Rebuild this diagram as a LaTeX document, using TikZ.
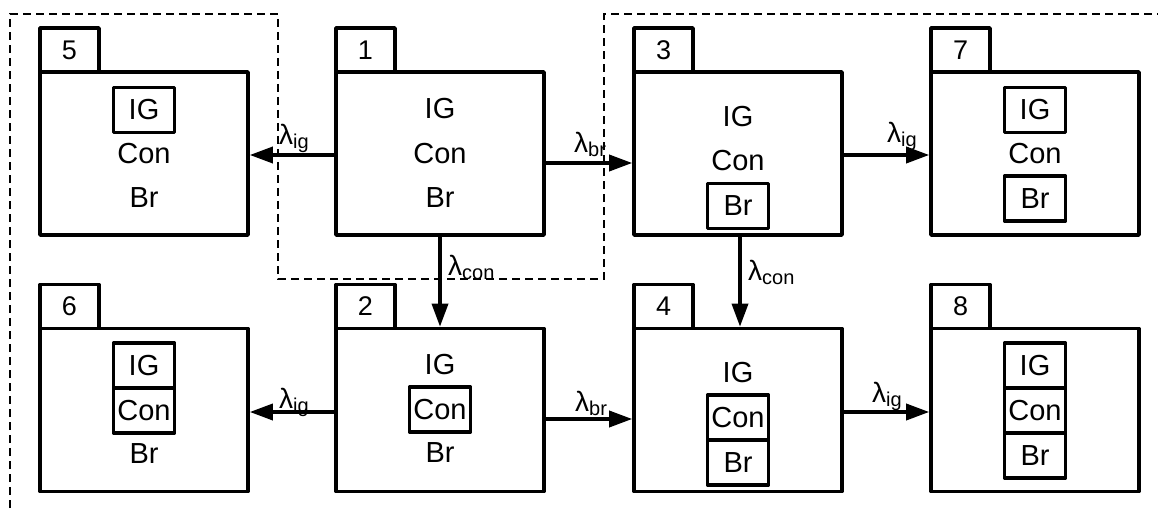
\documentclass[tikz,border=0pt]{standalone}
\usepackage{fontspec}
\setmainfont{Liberation Sans}
\usetikzlibrary{arrows.meta}
\newcommand{\lsub}[1]{λ\raisebox{-4pt}{\fontsize{20}{20}\selectfont #1}}
\begin{document}
\begin{tikzpicture}[x=1pt,y=-1pt,
  body/.style={draw, line width=3.7pt, line join=round, minimum width=208pt, minimum height=163pt, inner sep=0pt, outer sep=0pt},
  tab/.style={draw, line width=3.7pt, line join=round, minimum width=59pt, minimum height=44pt, inner sep=0pt, outer sep=0pt, font=\fontsize{27}{27}\selectfont, anchor=south west},
  txt/.style={inner sep=0pt, font=\fontsize{29}{29}\selectfont},
  ibox/.style={draw, line width=3.7pt, line join=round, minimum width=61pt, minimum height=45pt, inner sep=0pt, outer sep=0pt, font=\fontsize{29}{29}\selectfont},
  arr/.style={line width=3.5pt, -{Triangle[length=23pt,width=16pt]}, shorten >=1.8pt},
  lab/.style={inner sep=0pt, anchor=base west, font=\fontsize{28}{28}\selectfont},
  frameline/.style={line width=1.3pt, dash pattern=on 8pt off 5pt}
]
\useasboundingbox (0,0) rectangle (1158,513);
% dashed frame
\draw[frameline] (10,508) -- (10,14) -- (278,14) -- (278,279) -- (604,279) -- (604,14) -- (1158,14);

% box 5
\node[body] (b5) at (144,153.5) {};
\node[tab] (t5) at (b5.north west) {5};
\node[ibox] (b5ig) at (144,110) {IG};
\node[txt] (b5con) at (144,154) {Con};
\node[txt] (b5br) at (144,198) {Br};

% box 1
\node[body] (b1) at (440,153.5) {};
\node[tab] (t1) at (b1.north west) {1};
\node[txt] (b1ig) at (440,109) {IG};
\node[txt] (b1con) at (440,154) {Con};
\node[txt] (b1br) at (440,198) {Br};

% box 3
\node[body] (b3) at (738,153.5) {};
\node[tab] (t3) at (b3.north west) {3};
\node[txt] (b3ig) at (738,117) {IG};
\node[txt] (b3con) at (738,161) {Con};
\node[ibox] (b3br) at (738,206) {Br};

% box 7
\node[body] (b7) at (1035,153.5) {};
\node[tab] (t7) at (b7.north west) {7};
\node[ibox] (b7ig) at (1035,110) {IG};
\node[txt] (b7con) at (1035,154) {Con};
\node[ibox] (b7br) at (1035,198.5) {Br};

% box 6
\node[body] (b6) at (144,410) {};
\node[tab] (t6) at (b6.north west) {6};
\node[ibox] (b6ig) at (144,365.5) {IG};
\node[ibox, anchor=north] (b6con) at (b6ig.south) {Con};
\node[txt] (b6br) at (144,454) {Br};

% box 2
\node[body] (b2) at (440,410) {};
\node[tab] (t2) at (b2.north west) {2};
\node[txt] (b2ig) at (440,365) {IG};
\node[ibox] (b2con) at (440,409.5) {Con};
\node[txt] (b2br) at (440,453) {Br};

% box 4
\node[body] (b4) at (738,410) {};
\node[tab] (t4) at (b4.north west) {4};
\node[txt] (b4ig) at (738,373) {IG};
\node[ibox] (b4con) at (738,417.5) {Con};
\node[ibox, anchor=north] (b4br) at (b4con.south) {Br};

% box 8
\node[body] (b8) at (1035,410) {};
\node[tab] (t8) at (b8.north west) {8};
\node[ibox] (b8ig) at (1035,365.5) {IG};
\node[ibox, anchor=north] (b8con) at (b8ig.south) {Con};
\node[ibox, anchor=north] (b8br) at (b8con.south) {Br};

% arrows
\draw[arr] ([yshift=-1.5pt]b1.west) -- ([yshift=-1.5pt]b5.east);
\draw[arr] ([yshift=-9.5pt]b1.east) -- ([yshift=-9.5pt]b3.west);
\draw[arr] ([yshift=-1.5pt]b3.east) -- ([yshift=-1.5pt]b7.west);
\draw[arr] (b1.south) -- (b2.north);
\draw[arr] ([xshift=2pt]b3.south) -- ([xshift=2pt]b4.north);
\draw[arr] ([yshift=-2pt]b2.west) -- ([yshift=-2pt]b6.east);
\draw[arr] ([yshift=-9pt]b2.east) -- ([yshift=-9pt]b4.west);
\draw[arr] ([yshift=-2pt]b4.east) -- ([yshift=-2pt]b8.west);

% labels
\node[lab] (l15) at (279,145) {\lsub{ig}};
\node[lab] (l13) at (574,153) {\lsub{br}};
\node[lab] (l37) at (887,143) {\lsub{ig}};
\node[lab] (l12) at (448,275) {\lsub{con}};
\node[lab] (l34) at (748,280) {\lsub{con}};
\node[lab] (l26) at (279,408) {\lsub{ig}};
\node[lab] (l24) at (575,411) {\lsub{br}};
\node[lab] (l48) at (872,402) {\lsub{ig}};
\end{tikzpicture}
\end{document}
